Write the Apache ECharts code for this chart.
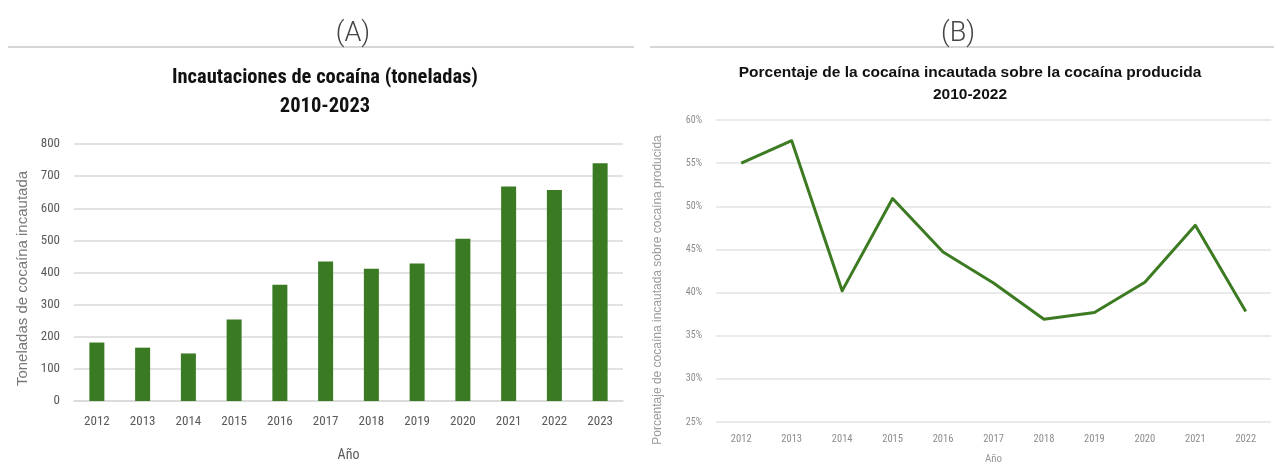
<!DOCTYPE html>
<html>
<head>
<meta charset="utf-8">
<script src="https://cdn.jsdelivr.net/npm/echarts@6/dist/echarts.min.js"></script>
<style>
  html, body { margin: 0; padding: 0; background: #fff; }
  #main { width: 1274px; height: 474px; }
</style>
</head>
<body>
<div id="main"></div>
<script>
// datos (A): toneladas incautadas
const yearsA = ['2012', '2013', '2014', '2015', '2016', '2017', '2018', '2019', '2020', '2021', '2022', '2023']
const tonnes = [182, 166, 148, 254, 362, 434, 412, 428, 505, 668, 657, 740]
// datos (B): porcentaje incautado sobre producido
const yearsB = ['2012', '2013', '2014', '2015', '2016', '2017', '2018', '2019', '2020', '2021', '2022']
const percent = [55.0, 57.6, 40.2, 50.9, 44.7, 41.1, 36.9, 37.7, 41.2, 47.8, 37.8]

const narrow = '"Liberation Sans Narrow", "Roboto Condensed", "Liberation Sans", sans-serif'
const green = '#3a7a22'

const myChart = echarts.init(document.querySelector('#main'))
const option = {
  animation: false,
  title: [
    { text: '(A)', left: 348, top: 16, textAlign: 'center',
      textStyle: { fontFamily: 'Roboto', fontWeight: 300, fontSize: 27, color: '#444' } },
    { text: '(B)', left: 953, top: 16, textAlign: 'center',
      textStyle: { fontFamily: 'Roboto', fontWeight: 300, fontSize: 27, color: '#444' } },
    { text: 'Incautaciones de cocaína (toneladas)\n2010-2023', left: 320, top: 58, textAlign: 'center',
      textStyle: { fontFamily: narrow, fontWeight: 'bold', fontSize: 20.5, lineHeight: 29, color: '#111' } },
    { text: 'Porcentaje de la cocaína incautada sobre la cocaína producida\n2010-2022', left: 965, top: 57, textAlign: 'center',
      textStyle: { fontFamily: 'Liberation Sans', fontWeight: 'bold', fontSize: 15.5, lineHeight: 22, color: '#111' } },
  ],
  graphic: [
    { type: 'line', shape: { x1: 8, y1: 47, x2: 634, y2: 47 }, style: { stroke: '#c8c8c8', lineWidth: 1.5 } },
    { type: 'line', shape: { x1: 650, y1: 47, x2: 1274, y2: 47 }, style: { stroke: '#c8c8c8', lineWidth: 1.5 } },
  ],
  grid: [
    { left: 74, right: 651, top: 144, bottom: 73 },
    { left: 716, right: 3, top: 120, bottom: 52 },
  ],
  xAxis: [
    {
      gridIndex: 0,
      type: 'category',
      data: yearsA,
      name: 'Año',
      nameLocation: 'middle',
      nameGap: 47,
      nameTextStyle: { fontFamily: narrow, fontSize: 14, color: '#595959' },
      axisLine: { lineStyle: { color: '#d9d9d9', width: 1.5 } },
      axisTick: { show: false },
      axisLabel: { fontFamily: narrow, fontSize: 13, color: '#595959', margin: 14 },
    },
    {
      gridIndex: 1,
      type: 'category',
      data: yearsB,
      name: 'Año',
      nameLocation: 'middle',
      nameGap: 32,
      nameTextStyle: { fontFamily: narrow, fontSize: 11, color: '#999' },
      axisLine: { show: false },
      axisTick: { show: false },
      axisLabel: { fontFamily: narrow, fontSize: 10.5, color: '#8c8c8c', margin: 12 },
    },
  ],
  yAxis: [
    {
      gridIndex: 0,
      type: 'value',
      min: 0,
      max: 800,
      interval: 100,
      name: 'Toneladas de cocaína incautada',
      nameLocation: 'middle',
      nameGap: 44,
      nameTextStyle: { fontFamily: 'Liberation Sans', fontSize: 15, color: '#777', padding: [0, 12, 0, 0] },
      axisLabel: { fontFamily: narrow, fontSize: 13, color: '#595959', margin: 14 },
      splitLine: { lineStyle: { color: '#d9d9d9', width: 1.5 } },
    },
    {
      gridIndex: 1,
      type: 'value',
      min: 25,
      max: 60,
      interval: 5,
      name: 'Porcentaje de cocaína incautada sobre cocaína producida',
      nameLocation: 'middle',
      nameGap: 52,
      nameTextStyle: { fontFamily: 'Liberation Sans', fontSize: 12, color: '#999', padding: [0, 38, 0, 0] },
      axisLabel: { fontFamily: narrow, fontSize: 10, color: '#8c8c8c', margin: 14, formatter: '{value}%' },
      splitLine: { lineStyle: { color: '#e3e3e3', width: 1.5 } },
    },
  ],
  series: [
    {
      type: 'bar',
      xAxisIndex: 0,
      yAxisIndex: 0,
      data: tonnes,
      barWidth: 15,
      itemStyle: { color: green },
    },
    {
      type: 'line',
      xAxisIndex: 1,
      yAxisIndex: 1,
      data: percent,
      showSymbol: false,
      symbol: 'none',
      lineStyle: { color: '#3d7b22', width: 3, join: 'round' },
    },
  ],
}
myChart.setOption(option)
</script>
</body>
</html>
